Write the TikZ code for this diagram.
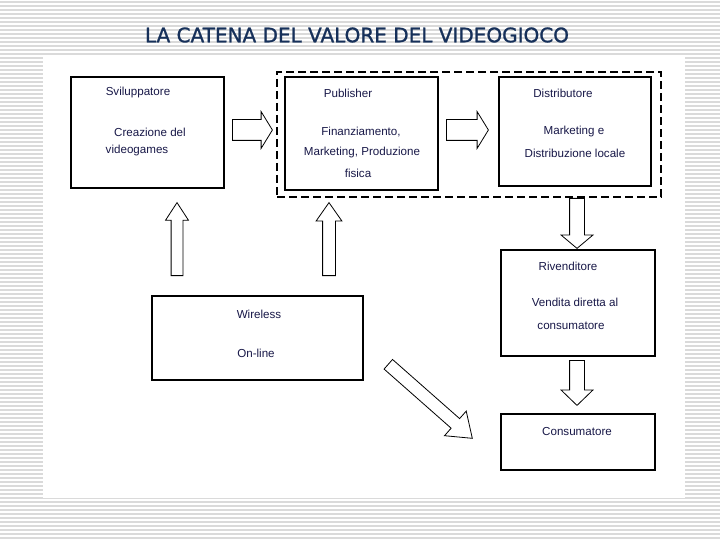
\documentclass[tikz,border=0pt]{standalone}
\usepackage{fontspec}
\setmainfont{Liberation Sans}
\newfontfamily\titlefont[FakeBold=1.2]{DejaVu Sans}
\usetikzlibrary{shapes.arrows}
\definecolor{titleblue}{RGB}{22,48,90}
\definecolor{inkblue}{RGB}{24,24,72}
\definecolor{stripegray}{RGB}{218,218,218}

\begin{document}
\begin{tikzpicture}[x=1pt,y=-1pt]
  \tikzstyle{box}=[draw,line width=1.2pt,fill=white,inner sep=0pt]
  \tikzstyle{txt}=[text=inkblue,font=\fontsize{11.6}{13}\selectfont,inner sep=0pt]
  \tikzstyle{blockarrow}=[single arrow,draw,line width=0.8pt,fill=white,inner xsep=0pt,anchor=tail]
  \tikzstyle{stripe}=[stripegray,line width=1.3pt]

  % Background with stripes and white panel
  \useasboundingbox (0,0) rectangle (720,540);
  \fill[white] (0,0) rectangle (720,540);
  \foreach \y in {2,6,...,538}
    \draw[stripe] (0,\y) -- (720,\y);
  \fill[white] (43,55) rectangle (685,498);

  % Title
  \node[text=titleblue,font=\titlefont\fontsize{20}{22}\selectfont] (title) at (357,35) {LA CATENA DEL VALORE DEL VIDEOGIOCO};

  % Dashed frame round publisher and distributor
  \node[draw,line width=2.6pt,dash pattern=on 8pt off 4pt,minimum width=384pt,minimum height=125pt,inner sep=0pt] (chain) at (469,134.5) {};

  % Boxes
  \node[box,minimum width=153pt,minimum height=111pt] (svil) at (147.5,132.5) {};
  \node[box,minimum width=153pt,minimum height=113pt] (pub) at (361.5,133.5) {};
  \node[box,minimum width=152pt,minimum height=109pt] (dist) at (575,131.5) {};
  \node[box,minimum width=211pt,minimum height=84pt] (wire) at (257.5,338) {};
  \node[box,minimum width=154pt,minimum height=106pt] (riv) at (578,303) {};
  \node[box,minimum width=154pt,minimum height=56pt] (cons) at (578,442) {};

  % Box texts
  \node[txt] (svilT) at (138,93) {Sviluppatore};
  \node[txt] (svilA) at (150,132) {Creazione del};
  \node[txt] (svilB) at (137,151) {videogames};
  \node[txt] (pubT) at (348,93) {Publisher};
  \node[txt] (pubA) at (361,132) {Finanziamento,};
  \node[txt] (pubB) at (362,153) {Marketing, Produzione};
  \node[txt] (pubC) at (358,173) {fisica};
  \node[txt] (distT) at (563,93) {Distributore};
  \node[txt] (distA) at (574,132) {Marketing e};
  \node[txt] (distB) at (575,153) {Distribuzione locale};
  \node[txt] (wireT) at (259,314) {Wireless};
  \node[txt] (wireA) at (256,353) {On-line};
  \node[txt] (rivT) at (568,266) {Rivenditore};
  \node[txt] (rivA) at (575,302) {Vendita diretta al};
  \node[txt] (rivB) at (571,326) {consumatore};
  \node[txt] (consT) at (577,432) {Consumatore};

  % Block arrows
  \node[blockarrow,minimum height=40pt,inner ysep=10pt,single arrow head extend=8pt,single arrow tip angle=117] (a1) at (232,130) {};
  \node[blockarrow,minimum height=42pt,inner ysep=10pt,single arrow head extend=8pt,single arrow tip angle=117] (a2) at (446,130) {};
  \node[blockarrow,rotate=90,minimum height=73pt,inner ysep=5.5pt,single arrow head extend=5.5pt,single arrow tip angle=66] (up1) at (177,276) {};
  \node[blockarrow,rotate=90,minimum height=73pt,inner ysep=6pt,single arrow head extend=6.5pt,single arrow tip angle=70] (up2) at (329,276) {};
  \node[blockarrow,rotate=-90,minimum height=50pt,inner ysep=7pt,single arrow head extend=8.5pt,single arrow tip angle=100] (down1) at (577,198) {};
  \node[blockarrow,rotate=-90,minimum height=45pt,inner ysep=7pt,single arrow head extend=8.5pt,single arrow tip angle=92] (down2) at (577,360) {};
  \node[blockarrow,rotate=-41.4,minimum height=112pt,inner ysep=6pt,single arrow head extend=10pt,single arrow tip angle=72] (diag) at (388,364) {};
\end{tikzpicture}
\end{document}
